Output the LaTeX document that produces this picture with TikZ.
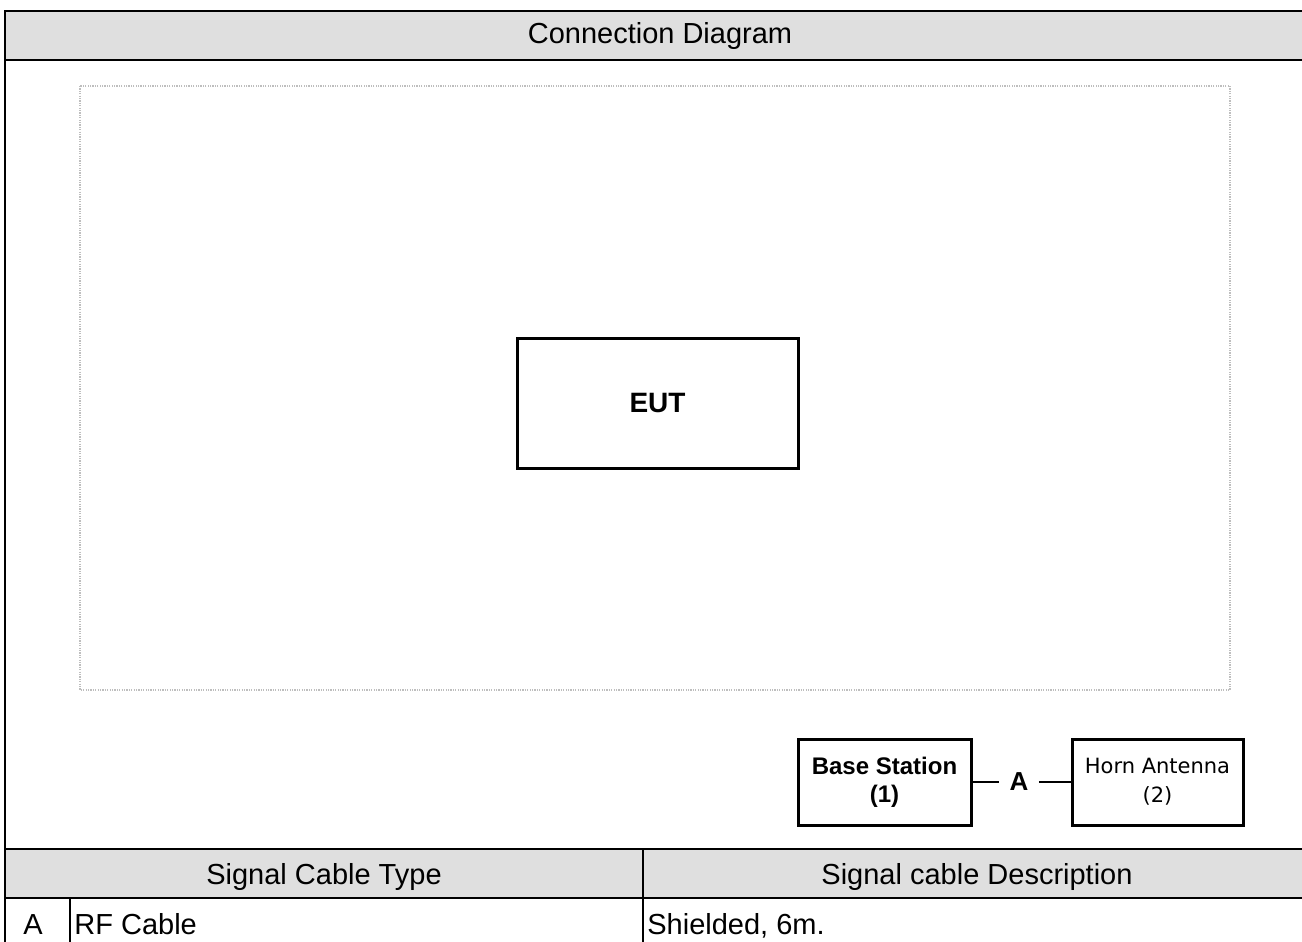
\documentclass[tikz,border=0pt]{standalone}
\usepackage{fontspec}
\setmainfont{Liberation Sans}
\newfontfamily\vfont{DejaVu Sans}
\usepackage{xcolor}
\usepackage{tikz}
\usetikzlibrary{positioning}
\definecolor{hdr_gray}{RGB}{223,223,223}
\definecolor{dot_gray}{RGB}{190,190,190}

\tikzset{
  rule/.style={line width=1pt},
  unitbox/.style={draw, line width=1.5pt, align=center, inner sep=0pt},
  hdrtext/.style={font=\fontsize{14.5}{17}\selectfont},
}

\begin{document}
\begin{tikzpicture}[x=0.5pt, y=-0.5pt]
        \useasboundingbox (0,0) rectangle (1302,942);
        \clip (0,0) rectangle (1302,942);
        % header bands
        \fill[hdr_gray] (5,11) rectangle (1320,60);
        \fill[hdr_gray] (5,849) rectangle (1320,898);
        \draw[rule] (1320,11) -- (5,11) -- (5,960);
        \draw[rule] (5,60) -- (1320,60);
        \draw[rule] (5,849) -- (1320,849);
        \draw[rule] (5,898) -- (1320,898);
        \draw[rule] (643,849) -- (643,960);
        \draw[rule] (70,898) -- (70,960);
        % dotted test area
        \draw[dot_gray, line width=0.6pt, dash pattern=on 0.6pt off 0.6pt]
          (80,86) rectangle (1230,690);
        \node[unitbox, minimum width=140.5pt, minimum height=65pt,
          font=\fontsize{14}{16}\selectfont\bfseries] (eut) at (657.5,403) {EUT};
        % cable set-up
        \node[unitbox, minimum width=86.5pt, minimum height=43pt,
          font=\fontsize{12}{14}\selectfont\bfseries] (bs) at (884.5,782)
          {Base Station\\(1)};
        \node[unitbox, minimum width=85.5pt, minimum height=43pt,
          font=\fontsize{10.5}{14.5}\selectfont\vfont] (horn) at (1157.5,782)
          {Horn Antenna\\(2)};
        \node[font=\fontsize{13}{15}\selectfont\bfseries, inner xsep=5pt] (cbl)
          at (1019,782) {A};
        \draw[rule] (bs.east) -- (cbl.west);
        \draw[rule] (cbl.east) -- (horn.west);
        % texts
        \node[hdrtext] (title) at (660,36) {Connection Diagram};
        \node[hdrtext, anchor=base] (typeh) at (324,884) {Signal Cable Type};
        \node[hdrtext, anchor=base] (desch) at (977,884) {Signal cable Description};
        \node[hdrtext, anchor=base] (rowa) at (33,934) {A};
        \node[hdrtext, anchor=base west, inner xsep=1pt] (rowtype) at (72,934) {RF Cable};
        \node[hdrtext, anchor=base west, inner xsep=1pt] (rowdesc) at (645,934) {Shielded, 6m.};
      \end{tikzpicture}
\end{document}
